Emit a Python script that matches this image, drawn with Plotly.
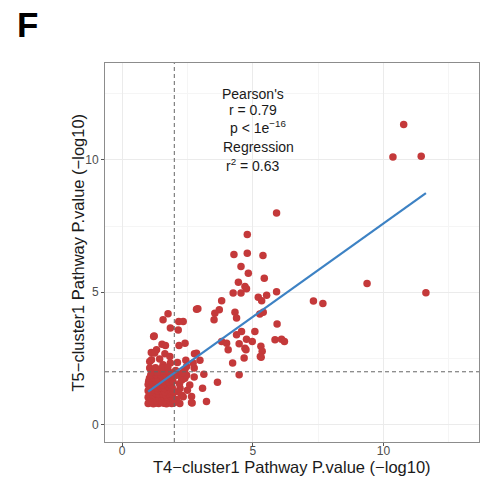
import numpy as np
import plotly.graph_objects as go

# Pathway significance (-log10 P) for T4-cluster1 (x) and T5-cluster1 (y)
t4_spread = [10.77, 10.36, 11.44, 11.62, 9.37, 7.32, 7.68, 5.91, 4.79, 4.28, 4.79, 5.39, 4.55, 4.83,
             5.44, 4.45, 4.70, 4.76, 4.25, 4.55, 5.91, 5.53, 5.21, 5.34, 3.81, 3.72, 3.55, 2.85, 2.90,
             3.52, 4.32, 4.38, 5.40, 5.27, 5.93, 4.57, 5.08, 4.38, 4.76, 4.98, 4.48, 4.70, 4.74, 4.67,
             5.31, 5.36, 5.29, 5.32, 5.85, 6.10, 6.21, 3.81, 4.00, 4.06, 4.23, 4.48, 3.65, 2.98, 2.77,
             2.85, 2.44, 2.41, 2.18, 2.15, 2.17, 2.34, 1.76, 1.57, 1.85, 1.21, 1.23, 1.53, 1.66, 1.32,
             1.12, 1.64, 1.25, 1.06, 1.13, 1.44, 1.83, 1.85, 1.57, 1.06, 2.76, 2.40, 3.13, 2.31, 2.40,
             2.76, 3.08, 2.50, 2.22, 2.28, 2.66, 2.68, 3.23, 2.21, 2.09, 2.28, 2.47, 2.59, 2.15, 2.34,
             2.66, 2.47, 2.72, 2.10, 2.20, 2.05, 2.12, 2.30]
t5_spread = [11.33, 10.10, 10.13, 4.98, 5.33, 4.67, 4.58, 7.99, 7.18, 6.42, 6.47, 6.39, 5.97, 5.72,
             5.53, 5.38, 5.22, 5.13, 4.97, 4.97, 5.02, 4.89, 4.81, 4.68, 4.68, 4.34, 4.21, 4.36, 4.38,
             3.96, 4.25, 4.03, 4.25, 4.18, 3.80, 3.52, 3.52, 3.40, 3.23, 3.14, 3.06, 2.89, 2.83, 2.52,
             2.96, 2.77, 2.58, 2.55, 3.21, 3.23, 3.14, 3.14, 3.08, 2.83, 2.33, 1.89, 1.60, 2.43, 2.68,
             2.70, 2.43, 3.08, 2.99, 3.58, 3.90, 3.90, 4.19, 3.96, 3.65, 3.33, 3.35, 3.04, 2.99, 2.83,
             2.73, 2.68, 2.71, 2.39, 2.45, 2.48, 2.58, 2.33, 2.26, 2.14, 2.14, 2.08, 1.91, 1.72, 1.76,
             1.80, 1.38, 1.30, 1.38, 1.11, 1.07, 0.82, 0.88, 0.80, 1.87, 1.69, 1.87, 1.50, 1.25, 1.06,
             0.84, 2.20, 2.33, 0.95, 1.55, 2.05, 2.35, 1.95]

# Densely packed low-significance pathways
t4_core = [1.00, 1.10, 1.20, 1.30, 1.40, 1.50, 1.60, 1.70, 1.80, 1.90, 1.98,
           1.05, 1.15, 1.25, 1.35, 1.45, 1.55, 1.65, 1.75, 1.85, 1.95,
           1.00, 1.12, 1.22, 1.32, 1.42, 1.52, 1.62, 1.72, 1.82, 1.92,
           1.05, 1.18, 1.30, 1.42, 1.55, 1.68, 1.80, 1.93,
           1.00, 1.12, 1.25, 1.38, 1.50, 1.62, 1.75, 1.88, 1.97,
           1.05, 1.20, 1.35, 1.48, 1.62, 1.78, 1.92,
           1.00, 1.10, 1.25, 1.40, 1.55, 1.70, 1.85,
           1.02, 1.15, 1.30, 1.45, 1.60, 1.80, 1.95,
           1.05, 1.20, 1.38, 1.55, 1.72, 1.90,
           1.10, 1.30, 1.50, 1.68, 1.85,
           1.15, 1.35, 1.60, 1.80,
           1.28, 1.52, 1.75]
t5_core = [0.80, 0.83, 0.79, 0.82, 0.80, 0.84, 0.81, 0.79, 0.83, 0.80, 0.82,
           0.92, 0.90, 0.94, 0.91, 0.93, 0.89, 0.92, 0.95, 0.90, 0.93,
           1.04, 1.02, 1.06, 1.03, 1.05, 1.01, 1.04, 1.06, 1.02, 1.05,
           1.16, 1.14, 1.18, 1.15, 1.17, 1.13, 1.16, 1.15,
           1.28, 1.26, 1.30, 1.27, 1.29, 1.25, 1.31, 1.28, 1.26,
           1.40, 1.42, 1.38, 1.41, 1.39, 1.43, 1.40,
           1.52, 1.54, 1.50, 1.53, 1.51, 1.55, 1.52,
           1.64, 1.62, 1.66, 1.63, 1.65, 1.61, 1.64,
           1.76, 1.78, 1.74, 1.77, 1.75, 1.79,
           1.88, 1.90, 1.86, 1.89, 1.87,
           2.00, 1.98, 2.02, 1.99,
           2.15, 2.13, 2.17]

x_vals = np.array(t4_spread + t4_core)
y_vals = np.array(t5_spread + t5_core)

cutoff = 2.0
axis_ticks = [0, 5, 10]
axis_range = [-0.65, 13.65]

# Least-squares fit across the observed range
slope, intercept = np.polyfit(x_vals, y_vals, 1)
fit_x = np.array([x_vals.min(), x_vals.max()])
fit_y = intercept + slope * fit_x

FONT = "Liberation Sans, Arial, sans-serif"

fig = go.Figure()
fig.add_trace(go.Scatter(
    x=x_vals, y=y_vals, mode="markers",
    marker=dict(size=7.5, color="#C4393A", line=dict(width=0)),
    hoverinfo="skip", showlegend=False,
))
fig.add_trace(go.Scatter(
    x=fit_x, y=fit_y, mode="lines",
    line=dict(color="#3D82C4", width=2.2),
    hoverinfo="skip", showlegend=False,
))

# Significance thresholds
fig.add_shape(type="line", xref="x", yref="paper", x0=cutoff, x1=cutoff, y0=0, y1=1,
              line=dict(color="#666666", width=1, dash="4px,3px"), layer="above")
fig.add_shape(type="line", xref="paper", yref="y", x0=0, x1=1, y0=cutoff, y1=cutoff,
              line=dict(color="#666666", width=1, dash="4px,3px"), layer="above")

stat_lines = [
    ("Pearson's", 5.0, 12.48),
    ("r = 0.79", 5.0, 11.88),
    ("p < 1e<sup>−16</sup>", 5.2, 11.22),
    ("Regression", 5.2, 10.49),
    ("r<sup>2</sup> = 0.63", 5.0, 9.82),
]
for txt, ax_x, ax_y in stat_lines:
    fig.add_annotation(x=ax_x, y=ax_y, xref="x", yref="y", text=txt, showarrow=False,
                       font=dict(family=FONT, size=14, color="#1a1a1a"),
                       xanchor="center", yanchor="middle")

# Panel letter
fig.add_annotation(x=-0.2406, y=1.1016, xref="paper", yref="paper", text="<b>F</b>",
                   showarrow=False, xanchor="left", yanchor="middle",
                   font=dict(family=FONT, size=35, color="black"))

# Axis titles
fig.add_annotation(x=0.5, y=-0.0923, xref="paper", yref="paper",
                   text="T4−cluster1 Pathway P.value (−log10)", showarrow=False,
                   xanchor="center", yanchor="bottom", borderpad=0,
                   font=dict(family=FONT, size=16.5, color="#1a1a1a"))
fig.add_annotation(x=-0.0722, y=0.5, xref="paper", yref="paper",
                   text="T5−cluster1 Pathway P.value (−log10)", showarrow=False,
                   textangle=-90, xanchor="center", yanchor="middle",
                   font=dict(family=FONT, size=16.5, color="#1a1a1a"))

axis_common = dict(
    range=axis_range, tickvals=axis_ticks, ticktext=[str(t) for t in axis_ticks],
    showgrid=True, gridcolor="#EBEBEB", gridwidth=1,
    minor=dict(tickvals=[2.5, 7.5, 12.5], showgrid=True, gridcolor="#F5F5F5", gridwidth=0.6, ticks=""),
    zeroline=False, showline=True, linecolor="#8C8C8C", linewidth=1, mirror=True,
    ticks="outside", ticklen=3, tickcolor="#555555", tickwidth=1,
    tickfont=dict(family=FONT, size=12, color="#4D4D4D"),
)

fig.update_xaxes(**axis_common, ticklabelstandoff=-5)
fig.update_yaxes(**axis_common)

fig.update_layout(
    width=480, height=477,
    margin=dict(l=105, r=1, t=63, b=35, autoexpand=False),
    plot_bgcolor="white", paper_bgcolor="white",
)

fig.write_html("out.html")
